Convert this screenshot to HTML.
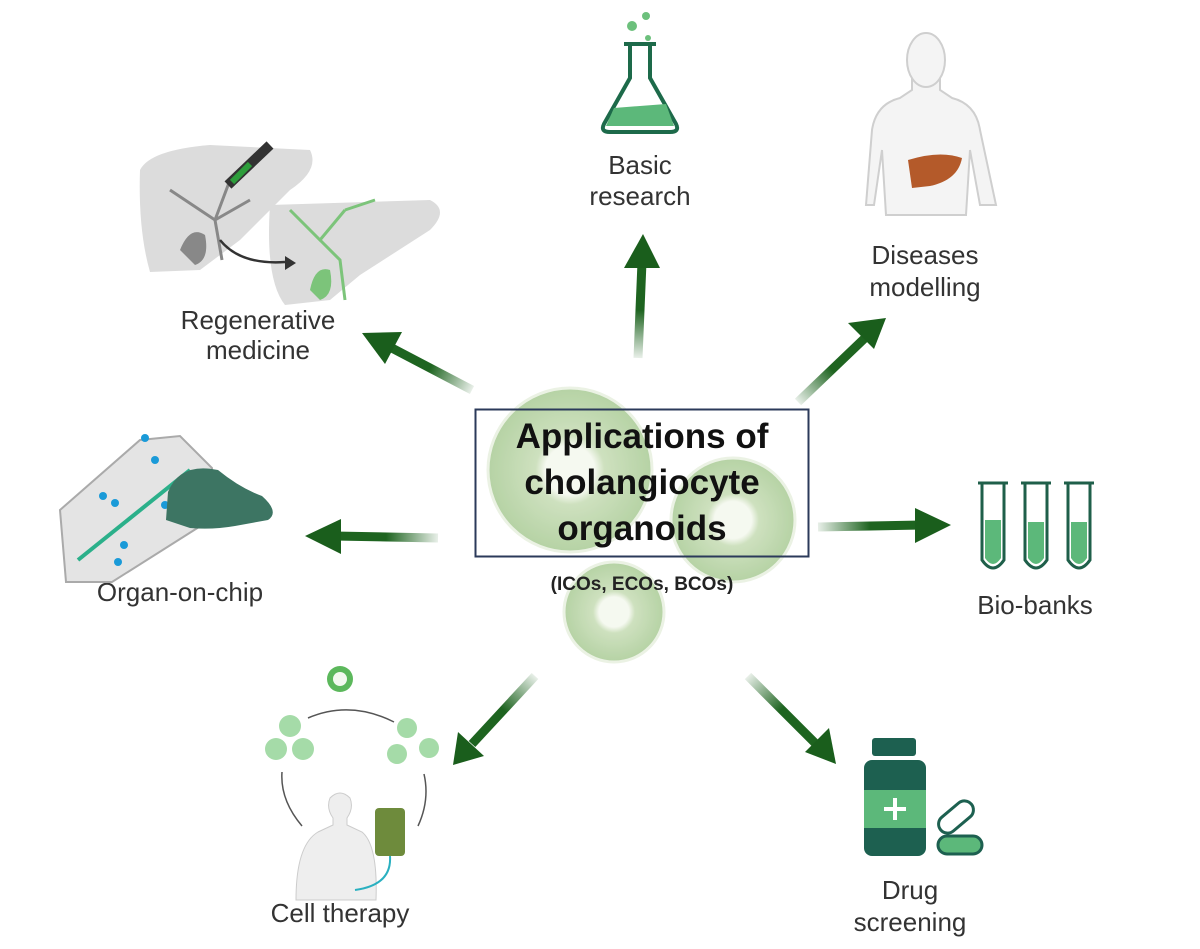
<!DOCTYPE html>
<html><head><meta charset="utf-8"><style>
html,body{margin:0;padding:0;background:#fff;}
svg{display:block}
text{font-family:"Liberation Sans",sans-serif;}
</style></head><body>
<svg width="1200" height="949" viewBox="0 0 1200 949" xmlns="http://www.w3.org/2000/svg">
<defs>
<marker id="ah" viewBox="0 0 10 10" refX="2" refY="5" markerWidth="4" markerHeight="4" orient="auto"><path d="M0,0 L10,5 L0,10 Z" fill="#1a5e1c"/></marker>
<radialGradient id="org" cx="0.5" cy="0.5" r="0.5"><stop offset="0.3" stop-color="#f4f8ee"/><stop offset="0.42" stop-color="#c6dcb4"/><stop offset="1" stop-color="#a9cb95"/></radialGradient>
<linearGradient id="g1" gradientUnits="userSpaceOnUse" x1="638" y1="358" x2="642" y2="262"><stop offset="0" stop-color="#1e6420" stop-opacity="0.1"/><stop offset="0.5" stop-color="#1e6420"/></linearGradient>
<linearGradient id="g2" gradientUnits="userSpaceOnUse" x1="472" y1="390" x2="388" y2="346"><stop offset="0" stop-color="#1e6420" stop-opacity="0.1"/><stop offset="0.5" stop-color="#1e6420"/></linearGradient>
<linearGradient id="g3" gradientUnits="userSpaceOnUse" x1="798" y1="402" x2="866" y2="337"><stop offset="0" stop-color="#1e6420" stop-opacity="0.1"/><stop offset="0.5" stop-color="#1e6420"/></linearGradient>
<linearGradient id="g4" gradientUnits="userSpaceOnUse" x1="438" y1="538" x2="334" y2="536"><stop offset="0" stop-color="#1e6420" stop-opacity="0.1"/><stop offset="0.5" stop-color="#1e6420"/></linearGradient>
<linearGradient id="g5" gradientUnits="userSpaceOnUse" x1="818" y1="527" x2="922" y2="525"><stop offset="0" stop-color="#1e6420" stop-opacity="0.1"/><stop offset="0.5" stop-color="#1e6420"/></linearGradient>
<linearGradient id="g6" gradientUnits="userSpaceOnUse" x1="535" y1="676" x2="472" y2="744"><stop offset="0" stop-color="#1e6420" stop-opacity="0.1"/><stop offset="0.5" stop-color="#1e6420"/></linearGradient>
<linearGradient id="g7" gradientUnits="userSpaceOnUse" x1="748" y1="676" x2="815" y2="743"><stop offset="0" stop-color="#1e6420" stop-opacity="0.1"/><stop offset="0.5" stop-color="#1e6420"/></linearGradient>
</defs>

<!-- organoids -->
<g opacity="0.85">
<circle cx="570" cy="470" r="82" fill="url(#org)" stroke="#e8f0e0" stroke-width="3"/>
<circle cx="733" cy="520" r="62" fill="url(#org)" stroke="#e8f0e0" stroke-width="3"/>
<circle cx="614" cy="612" r="50" fill="url(#org)" stroke="#e8f0e0" stroke-width="3"/>
</g>

<!-- arrows -->
<g stroke-width="9" fill="none">
<line x1="638" y1="358" x2="642" y2="262" stroke="url(#g1)"/>
<line x1="472" y1="390" x2="388" y2="346" stroke="url(#g2)"/>
<line x1="798" y1="402" x2="866" y2="337" stroke="url(#g3)"/>
<line x1="438" y1="538" x2="334" y2="536" stroke="url(#g4)"/>
<line x1="818" y1="527" x2="922" y2="525" stroke="url(#g5)"/>
<line x1="535" y1="676" x2="472" y2="744" stroke="url(#g6)"/>
<line x1="748" y1="676" x2="815" y2="743" stroke="url(#g7)"/>
</g>
<g fill="#1a5e1c">
<path d="M624,268 L660,268 L643,234 Z"/>
<path d="M385,364 L402,332 L362,333 Z"/>
<path d="M848,323 L874,349 L886,318 Z"/>
<path d="M341,519 L341,554 L305,536 Z"/>
<path d="M915,508 L915,543 L951,525 Z"/>
<path d="M458,732 L484,756 L453,765 Z"/>
<path d="M805,752 L829,728 L836,764 Z"/>
</g>

<!-- center box -->
<rect x="475.5" y="409.5" width="333" height="147" fill="none" stroke="#2b3a5a" stroke-width="2"/>
<g font-weight="bold" fill="#111" text-anchor="middle" font-size="35">
<text x="642" y="448">Applications of</text>
<text x="642" y="494">cholangiocyte</text>
<text x="642" y="540">organoids</text>
</g>
<text x="642" y="590" text-anchor="middle" font-size="19" font-weight="bold" fill="#222">(ICOs, ECOs, BCOs)</text>

<!-- labels -->
<g fill="#333" font-size="26" text-anchor="middle">
<text x="640" y="174">Basic</text><text x="640" y="205">research</text>
<text x="925" y="264">Diseases</text><text x="925" y="296">modelling</text>
<text x="258" y="329">Regenerative</text><text x="258" y="359">medicine</text>
<text x="180" y="601">Organ-on-chip</text>
<text x="1035" y="614">Bio-banks</text>
<text x="340" y="922">Cell therapy</text>
<text x="910" y="899">Drug</text><text x="910" y="931">screening</text>
</g>

<!-- flask -->
<g>
<circle cx="646" cy="16" r="4" fill="#6cc07c"/><circle cx="632" cy="26" r="5" fill="#6cc07c"/><circle cx="648" cy="38" r="3" fill="#6cc07c"/>
<path d="M624,44 L656,44 M630,44 L630,78 L604,124 Q600,132 610,132 L670,132 Q680,132 676,124 L650,78 L650,44" fill="none" stroke="#1d6a4a" stroke-width="4"/>
<path d="M614,108 L666,104 L674,126 L606,126 Z" fill="#5cb87a"/>
</g>

<!-- human with liver -->
<g fill="#f4f4f4" stroke="#cfcfcf" stroke-width="2">
<path d="M866,205 L872,130 Q876,104 900,98 L912,90 L912,78 L940,78 L940,90 L952,98 Q976,104 980,130 L996,205 L980,205 L970,150 L966,215 L886,215 L882,150 L874,205 Z"/>
<ellipse cx="926" cy="60" rx="19" ry="27"/>
</g>
<path d="M908,160 Q940,150 962,158 Q958,180 930,186 L912,188 Z" fill="#b45a2a"/>

<!-- regenerative livers -->
<path d="M140,170 Q150,150 210,145 L310,150 Q320,170 290,190 L240,240 L200,270 L150,272 Q138,230 140,170 Z" fill="#dcdcdc"/>
<path d="M270,205 L430,200 Q450,210 430,230 L360,275 L330,300 L285,305 Q265,280 270,205 Z" fill="#dcdcdc"/>
<path d="M170,190 Q200,210 215,220 L230,180 M215,220 L250,200 M215,220 L222,260" stroke="#888" stroke-width="3" fill="none"/>
<path d="M180,250 Q190,225 205,235 Q210,260 195,265 Z" fill="#888"/>
<path d="M290,210 L320,240 L345,210 M345,210 L375,200 M320,240 L340,260 L345,300" stroke="#7cc47a" stroke-width="3" fill="none"/>
<path d="M310,290 Q315,265 330,270 Q335,295 320,300 Z" fill="#7cc47a"/>
<path d="M220,240 Q240,265 285,262" stroke="#333" stroke-width="2.5" fill="none"/>
<path d="M285,256 L296,263 L285,270 Z" fill="#333"/>
<path d="M228,185 L270,145" stroke="#333" stroke-width="10"/><path d="M232,182 L250,164" stroke="#2e9e3c" stroke-width="6"/>

<!-- organ on chip -->
<path d="M60,510 L140,440 L180,436 L212,468 L210,520 L112,582 L66,582 Z" fill="#e4e4e4" stroke="#aaa" stroke-width="2"/>
<path d="M78,560 L190,470" stroke="#2bb08a" stroke-width="4"/>
<g fill="#1a9ad8"><circle cx="115" cy="503" r="4"/><circle cx="103" cy="496" r="4"/><circle cx="155" cy="460" r="4"/><circle cx="145" cy="438" r="4"/><circle cx="118" cy="562" r="4"/><circle cx="124" cy="545" r="4"/><circle cx="165" cy="505" r="4"/></g>
<path d="M168,492 Q180,462 218,470 Q240,488 262,496 Q280,512 268,520 L235,526 Q212,530 190,528 L166,520 Z" fill="#3d7563"/>

<!-- biobanks -->
<g fill="none" stroke="#1f5f4a" stroke-width="3">
<path d="M978,483 L1008,483 M982,483 L982,560 Q993,576 1004,560 L1004,483"/>
<path d="M1021,483 L1051,483 M1025,483 L1025,560 Q1036,576 1047,560 L1047,483"/>
<path d="M1064,483 L1094,483 M1068,483 L1068,560 Q1079,576 1090,560 L1090,483"/>
</g>
<g fill="#5cb87a"><path d="M985,520 L1001,520 L1001,558 Q993,570 985,558 Z"/><path d="M1028,522 L1044,522 L1044,558 Q1036,570 1028,558 Z"/><path d="M1071,522 L1087,522 L1087,558 Q1079,570 1071,558 Z"/></g>

<!-- drug -->
<rect x="872" y="738" width="44" height="18" rx="3" fill="#1d6050"/>
<rect x="864" y="760" width="62" height="96" rx="8" fill="#1d6050"/>
<rect x="864" y="790" width="62" height="38" fill="#5cb87a"/>
<path d="M895,798 V820 M884,809 H906" stroke="#fff" stroke-width="4"/>
<rect x="936" y="808" width="40" height="18" rx="9" transform="rotate(-40 956 817)" fill="#fff" stroke="#1d6050" stroke-width="3"/>
<rect x="938" y="836" width="44" height="18" rx="9" fill="#5cb87a" stroke="#1d6050" stroke-width="3"/>

<!-- cell therapy -->
<circle cx="340" cy="679" r="13" fill="#5cb85c"/><circle cx="340" cy="679" r="7" fill="#f3f9ef"/>
<g fill="#a5dba8"><circle cx="290" cy="726" r="11"/><circle cx="276" cy="749" r="11"/><circle cx="303" cy="749" r="11"/><circle cx="407" cy="728" r="10"/><circle cx="397" cy="754" r="10"/><circle cx="429" cy="748" r="10"/></g>
<path d="M308,718 Q350,700 394,722 M424,774 Q430,800 418,826 M302,826 Q280,800 282,772" stroke="#555" stroke-width="1.5" fill="none"/>
<path d="M296,900 Q296,845 318,832 L333,825 L333,818 Q326,808 330,798 Q340,788 350,798 Q354,808 347,818 L347,825 L362,832 Q378,845 376,900 Z" fill="#eee" stroke="#ccc"/>
<rect x="375" y="808" width="30" height="48" rx="4" fill="#6e8b3c"/>
<path d="M390,856 Q392,885 355,890" stroke="#2ab0c0" stroke-width="2" fill="none"/>
</svg>
</body></html>
